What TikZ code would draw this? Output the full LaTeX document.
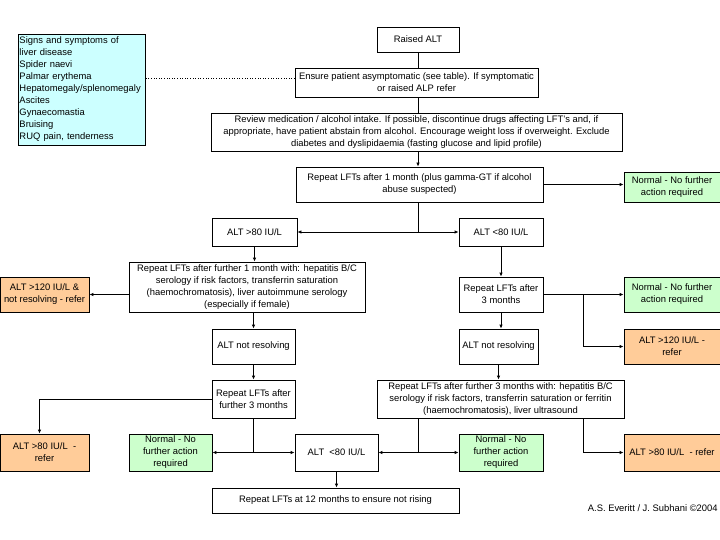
\documentclass[tikz,border=0pt]{standalone}
\usepackage{fontspec}
\setmainfont{Liberation Sans}
\usetikzlibrary{arrows.meta,calc}
\definecolor{signfill}{HTML}{CCFFFF}
\definecolor{normfill}{HTML}{CCFFCC}
\definecolor{referfill}{HTML}{FFCC99}

\begin{document}
\begin{tikzpicture}[x=1pt, y=-1pt, line width=0.8pt,
  box/.style={draw, inner sep=1pt, align=center, font=\fontsize{9.4}{12}\selectfont},
  normbox/.style={box, fill=normfill},
  referbox/.style={box, fill=referfill},
  arr/.style={-{Latex[length=4pt,width=3.5pt]}}]
\useasboundingbox (0,0) rectangle (720,540);
% info box at the left
\node [box, fill=signfill, align=left, text width=124, inner sep=1.5pt, minimum height=111] (signs) at (81.5,89.5)
  {Signs and symptoms of\\liver disease\\Spider naevi\\Palmar erythema\\Hepatomegaly/splenomegaly\\Ascites\\Gynaecomastia\\Bruising\\RUQ pain, tenderness};
% main column
\node [box, minimum width=82, minimum height=25] (raised) at (418,39.5) {Raised ALT};
\node [box, minimum width=243, minimum height=29] (ensure) at (416.5,82.5)
  {Ensure patient asymptomatic (see table). If symptomatic\\or raised ALP refer};
\node [box, minimum width=411, minimum height=38] (review) at (416.5,132)
  {Review medication / alcohol intake. If possible, discontinue drugs affecting LFT's and, if\\appropriate, have patient abstain from alcohol. Encourage weight loss if overweight. Exclude\\diabetes and dyslipidaemia (fasting glucose and lipid profile)};
\node [box, minimum width=247, minimum height=35] (rep1) at (419.5,184.5)
  {Repeat LFTs after 1 month (plus gamma-GT if alcohol\\abuse suspected)};
\node [normbox, minimum width=96, minimum height=30] (norm1) at (672,187) {Normal - No further\\action required};
\node [box, minimum width=85, minimum height=28] (hi80) at (254.5,232) {ALT >80 IU/L};
\node [box, minimum width=84, minimum height=28] (lo80) at (501,232) {ALT <80 IU/L};
% left branch
\node [box, minimum width=236, minimum height=50] (rep1b) at (247,287)
  {Repeat LFTs after further 1 month with: hepatitis B/C\\serology if risk factors, transferrin saturation\\(haemochromatosis), liver autoimmune serology\\(especially if female)};
\node [referbox, minimum width=89, minimum height=35] (ref120a) at (44.5,294.5) {ALT >120 IU/L \&\\not resolving - refer};
\node [box, minimum width=83, minimum height=35] (nres1) at (253.5,346.5) {ALT not resolving};
\node [box, minimum width=83, minimum height=38] (rep3a) at (253.5,399) {Repeat LFTs after\\further 3 months};
\node [referbox, minimum width=89, minimum height=37] (ref80a) at (44.5,452.5) {ALT >80 IU/L \ -\\refer};
\node [normbox, minimum width=83, minimum height=37] (norm3) at (170.5,452.5) {Normal - No\\further action\\required};
\node [box, minimum width=83, minimum height=37] (lo80b) at (336.5,452.5) {ALT \ <80 IU/L};
\node [box, minimum width=247, minimum height=25] (rep12) at (335.5,500.5) {Repeat LFTs at 12 months to ensure not rising};
% right branch
\node [box, minimum width=84, minimum height=35] (rep3) at (501,294.5) {Repeat LFTs after\\3 months};
\node [normbox, minimum width=96, minimum height=35] (norm2) at (672,294.5) {Normal - No further\\action required};
\node [referbox, minimum width=96, minimum height=35] (ref120b) at (672,346.5) {ALT >120 IU/L -\\refer};
\node [box, minimum width=79, minimum height=35] (nres2) at (498.5,346.5) {ALT not resolving};
\node [box, minimum width=247, minimum height=38] (rep3b) at (500.5,399)
  {Repeat LFTs after further 3 months with: hepatitis B/C\\serology if risk factors, transferrin saturation or ferritin\\(haemochromatosis), liver ultrasound};
\node [normbox, minimum width=84, minimum height=37] (norm4) at (501,452.5) {Normal - No\\further action\\required};
\node [referbox, minimum width=96, minimum height=37] (ref80b) at (672,452.5) {ALT >80 IU/L \ - refer};
\node [anchor=east, inner sep=0pt, font=\fontsize{9.4}{12}\selectfont] (credit) at (718,508) {A.S. Everitt / J. Subhani \textcopyright2004};

% connectors
\draw [dotted, line width=0.6pt] ([yshift=4.5pt]ensure.west) -- ([yshift=4.5pt]ensure.west -| signs.east);
\draw (raised.south) -- (raised.south |- ensure.north);
\draw (raised.south |- ensure.south) -- (raised.south |- review.north);
\draw [arr] (raised.south |- review.south) -- (raised.south |- rep1.north);
\draw [arr] (rep1.east) -- (rep1.east -| norm1.west);
\coordinate (j1) at (raised.south |- hi80);
\draw (raised.south |- rep1.south) -- (j1);
\draw [arr] (j1) -- (hi80.east);
\draw [arr] (j1) -- (lo80.west);
% left side
\draw [arr] (hi80.south) -- (hi80.south |- rep1b.north);
\draw [arr] (rep1b.west |- ref120a) -- (ref120a.east);
\draw [arr] (nres1.north |- rep1b.south) -- (nres1.north);
\draw [arr] (nres1.south) -- (rep3a.north);
\draw [arr] (rep3a.west) -| ([xshift=-5pt]ref80a.north);
\coordinate (j2) at (rep3a.south |- norm3);
\draw (rep3a.south) -- (j2);
\draw [arr] (j2) -- (norm3.east);
\draw [arr] (j2) -- (lo80b.west);
\draw [arr] (lo80b.south) -- (lo80b.south |- rep12.north);
% right side
\draw [arr] (lo80.south) -- (lo80.south |- rep3.north);
\coordinate (j3) at ($(rep3.east)!0.5!(norm2.west)$);
\draw [arr] (rep3.east) -- (norm2.west);
\draw [arr] (j3) |- (ref120b.west);
\draw [arr] (rep3.south) -- (rep3.south |- nres2.north);
\draw [arr] (nres2.south) -- (nres2.south |- rep3b.north);
\coordinate (j4) at ($(lo80b.east)!0.5!(norm4.west)$);
\draw (rep3b.south -| j4) -- (j4);
\draw [arr] (j4) -- (lo80b.east);
\draw [arr] (j4) -- (norm4.west);
\coordinate (j5) at ($(norm4.east)!0.5!(ref80b.west)$);
\draw [arr] (rep3b.south -| j5) |- (ref80b.west);
\end{tikzpicture}
\end{document}
